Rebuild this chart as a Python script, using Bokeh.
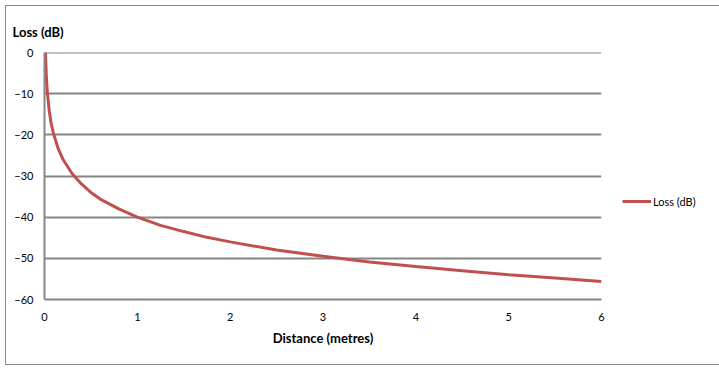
from bokeh.plotting import figure
from bokeh.models import Range1d, FixedTicker, Legend, LegendItem, Span
from bokeh.embed import file_html
from bokeh.resources import INLINE

# Data
distance_m = [0.01, 0.02, 0.03, 0.05, 0.07, 0.1, 0.15, 0.2, 0.3, 0.4, 0.5, 0.6, 0.8,
              1.0, 1.25, 1.5, 1.75, 2.0, 2.5, 3.0, 3.5, 4.0, 4.5, 5.0, 5.5, 6.0]
loss_db = [0, -6, -9.5, -14, -17, -20, -23.5, -26, -29.5, -32, -34, -35.6, -38,
           -40, -42, -43.5, -44.9, -46, -48, -49.5, -50.9, -52, -53, -54, -54.8, -55.6]
x_ticks = [0, 1, 2, 3, 4, 5, 6]
y_ticks = [-60, -50, -40, -30, -20, -10, 0]
series_name = "Loss (dB)"
x_title = "Distance (metres)"
y_title = "Loss (dB)"

FONT = "Lato"
GREY = "#868686"
RED = "#C0504D"

p = figure(width=708, height=358, frame_width=557, frame_height=247,
           output_backend="svg", toolbar_location=None,
           x_range=Range1d(0, 6), y_range=Range1d(-60, 0),
           min_border_left=38, min_border_right=113, min_border_top=46, min_border_bottom=65)
p.margin = (5, 0, 0, 5)
p.styles = {"border": "1px solid #898989"}
p.outline_line_color = None
p.background_fill_color = "white"
p.border_fill_color = "white"

p.title.text = y_title
p.title.align = "left"
p.title.offset = -32
p.title.standoff = 26
p.title.text_font = FONT
p.title.text_font_size = "13px"
p.title.text_font_style = "bold"
p.title.text_color = "black"

for ax in (p.xaxis[0], p.yaxis[0]):
    ax.axis_line_color = GREY
    ax.axis_line_width = 2
    ax.major_tick_line_color = None
    ax.minor_tick_line_color = None
    ax.major_tick_in = 0
    ax.major_tick_out = 0
    ax.minor_tick_in = 0
    ax.minor_tick_out = 0
    ax.major_label_text_font = FONT
    ax.major_label_text_font_size = "11px"
    ax.major_label_text_color = "black"

p.xaxis.ticker = FixedTicker(ticks=x_ticks)
p.yaxis.ticker = FixedTicker(ticks=y_ticks)
p.xaxis.major_label_standoff = 13
p.yaxis.major_label_standoff = 11
p.xaxis.axis_label = x_title
p.xaxis.axis_label_text_font = FONT
p.xaxis.axis_label_text_font_size = "13px"
p.xaxis.axis_label_text_font_style = "bold"
p.xaxis.axis_label_text_color = "black"
p.xaxis.axis_label_standoff = 6

p.xgrid.grid_line_color = None
p.ygrid.grid_line_color = GREY
p.ygrid.grid_line_width = 2
p.add_layout(Span(location=y_ticks[-1], dimension="width", line_color=GREY, line_width=2, level="underlay"))

r = p.line(distance_m, loss_db, line_color=RED, line_width=3)

legend = Legend(items=[LegendItem(label=series_name, renderers=[r])],
                location=(21, 88), orientation="vertical",
                glyph_width=29, glyph_height=20, label_standoff=2,
                padding=0, margin=0, spacing=0,
                border_line_color=None, background_fill_alpha=0,
                label_text_font=FONT, label_text_font_size="11px", label_text_color="black")
p.add_layout(legend, "right")

open("out.html", "w").write(file_html(p, INLINE))
